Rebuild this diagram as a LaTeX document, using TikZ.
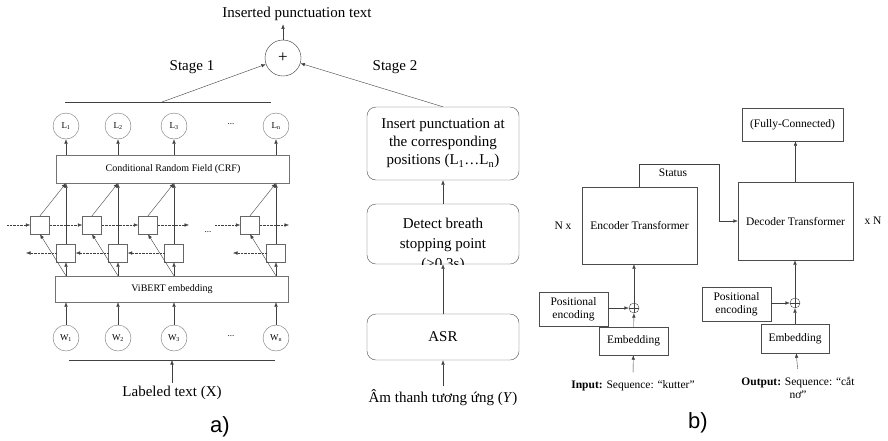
\documentclass[tikz,border=0pt]{standalone}
\usepackage{fontspec}
\setmainfont{Liberation Serif}
\newfontfamily\labfont{Liberation Sans}
\usetikzlibrary{arrows.meta}

\begin{document}
\begin{tikzpicture}[x=1pt,y=-1pt,
    arr/.style={-{Latex[length=4.5pt,width=3.5pt]},black!75},
    dotarr/.style={arr,densely dotted},
    tok/.style={draw=black!55,circle,inner sep=0pt,minimum size=26pt,font=\fontsize{9}{10}\selectfont},
    cell/.style={draw=black!60,minimum width=19pt,minimum height=18pt,inner sep=0pt},
    layer/.style={draw=black!55,minimum width=233pt,inner sep=0pt,font=\fontsize{10}{12}\selectfont},
    stagebox/.style={draw=black!70,rounded corners=9pt,minimum width=152pt,inner sep=0pt,align=center,font=\fontsize{15}{18}\selectfont},
    tbox/.style={draw=black!70,inner sep=0pt,align=center,font=\fontsize{11.5}{13}\selectfont},
    big/.style={font=\fontsize{15}{18}\selectfont},
    small/.style={font=\fontsize{11.5}{13}\selectfont},
    caption/.style={font=\labfont\fontsize{22}{22}\selectfont}]
    \useasboundingbox (0,0) rectangle (888,440);

    % a) stage 1
    \node[draw=black!80,circle,minimum size=36pt,inner sep=0pt,font=\fontsize{17}{17}\selectfont] (plus) at (283,58) {+};
    \node[big] (result) at (297,14) {Inserted punctuation text};
    \draw[arr] (plus.north) -- (plus.north |- result.south);
    \node[big] (stagea) at (192,67) {Stage 1};
    \node[big] (stageb) at (395,67) {Stage 2};

    \node[layer,minimum height=28pt] (crf) at (173,169) {Conditional Random Field (CRF)};
    \node[layer,minimum height=26pt] (vibert) at (172,289) {ViBERT embedding};

    \coordinate (topl) at (65,102);
    \coordinate (topr) at (271,102);
    \coordinate (topm) at (162,102);
    \draw[black!75] (topl) -- (topr);
    \draw[arr] (topm) -- (plus);

    \foreach \c/\x/\n in {1/66/1,2/118/2,3/174/3,4/276/n} {
        \node[tok] (L\c) at (\x,126) {L\textsubscript{\n}};
        \node[tok] (W\c) at (\x,338) {W\textsubscript{\n}};
        \node[cell] (f\c) at (\x-26,225) {};
        \node[cell] (b\c) at (\x,253) {};
        \draw[arr] (crf.north -| L\c) -- (L\c);
        \draw[arr] (W\c) -- (vibert.south -| W\c);
        \draw[arr] (vibert.north -| b\c) -- (b\c);
        \draw[arr] (b\c) -- (crf.south -| b\c);
        \draw[arr] (vibert.north -| b\c) -- (f\c.south);
        \draw[arr] (f\c.north) -- (crf.south -| b\c);
    }
    \node[font=\fontsize{9}{9}\selectfont] (ldots) at (231,124) {...};
    \node[font=\fontsize{9}{9}\selectfont] (cdots) at (208,232) {...};
    \node[font=\fontsize{9}{9}\selectfont] (wdots) at (231,336) {...};

    \coordinate (fin) at (7,225);
    \coordinate (fout) at (189,225);
    \coordinate (fin4) at (215,225);
    \coordinate (fend) at (289,225);
    \coordinate (bout) at (26,253);
    \coordinate (bout4) at (233,253);
    \draw[dotarr] (fin) -- (f1);
    \draw[dotarr] (f1) -- (f2);
    \draw[dotarr] (f2) -- (f3);
    \draw[dotarr] (f3) -- (fout);
    \draw[dotarr] (fin4) -- (f4);
    \draw[dotarr] (f4) -- (fend);
    \draw[dotarr] (b2) -- (b1);
    \draw[dotarr] (b1) -- (bout);
    \draw[dotarr] (b3) -- (b2);
    \draw[dotarr] (b4) -- (bout4);

    \coordinate (inl) at (69,360);
    \coordinate (inr) at (275,360);
    \draw[black!75] (inl) -- (inr);
    \node[big] (xtext) at (172,393) {Labeled text (X)};
    \draw[arr] (xtext.north) -- (xtext.north |- inl);
    \node[caption] (capa) at (220,427) {a)};

    % a) stage 2
    \node[stagebox,minimum height=73pt] (insert) at (443,143.5) {Insert punctuation at\\the corresponding\\positions (L\textsubscript{1}\ldots L\textsubscript{n})};
    \node[stagebox,minimum height=60pt] (detect) at (443,234) {};
    \begin{scope}
        \clip (detect.south west) rectangle (detect.north east);
        \node[align=center,inner sep=0pt,font=\fontsize{15}{20}\selectfont] (detecttext) at (443,245) {Detect breath\\stopping point\\(>0.3s)};
    \end{scope}
    \node[stagebox,minimum height=46pt] (asr) at (443,337) {ASR};
    \node[big] (audio) at (443,398) {Âm thanh tương ứng (\textit{Y})};
    \draw[arr] (audio.north) -- (asr);
    \draw[arr] (asr) -- (detect);
    \draw[arr] (detect) -- (insert);
    \draw[arr] (insert.north) -- (plus);

    % b)
    \node[tbox,minimum width=101pt,minimum height=33pt] (fc) at (792.5,124.5) {(Fully-Connected)};
    \node[tbox,minimum width=115pt,minimum height=78pt] (dec) at (795.5,221) {Decoder Transformer};
    \node[tbox,minimum width=115pt,minimum height=77pt] (enc) at (639.5,225.5) {Encoder Transformer};
    \node[tbox,minimum width=69pt,minimum height=34pt] (pos1) at (573.5,309) {Positional\\encoding};
    \node[tbox,minimum width=69pt,minimum height=28pt] (emb1) at (633.5,341) {Embedding};
    \node[tbox,minimum width=69pt,minimum height=34pt] (pos2) at (736.5,304) {Positional\\encoding};
    \node[tbox,minimum width=68pt,minimum height=29pt] (emb2) at (795,338.5) {Embedding};
    \node[draw=black!75,circle,minimum size=10pt,inner sep=0pt] (add1) at (634,308) {};
    \node[draw=black!75,circle,minimum size=10pt,inner sep=0pt] (add2) at (795,303) {};
    \draw[black!75] (add1.north) -- (add1.south) (add1.west) -- (add1.east);
    \draw[black!75] (add2.north) -- (add2.south) (add2.west) -- (add2.east);

    \node[small] (input) at (633,386) {\textbf{Input:} Sequence: “kutter”};
    \node[small,align=center] (output) at (798,388) {\textbf{Output:} Sequence: “cắt\\nơ”};
    \draw[arr,shorten <=5pt] (input.north) -- (emb1);
    \draw[arr,shorten <=5pt] (output.north) -- (emb2);
    \draw[arr] (emb1) -- (add1);
    \draw[arr] (emb2) -- (add2);
    \draw[arr] (pos1.east |- add1) -- (add1);
    \draw[arr] (pos2.east |- add2) -- (add2);
    \draw[arr] (add1) -- (add1 |- enc.south);
    \draw[arr] (add2) -- (add2 |- dec.south);
    \draw[arr] (dec.north) -- (dec.north |- fc.south);

    \coordinate (st1) at (719,164);
    \draw[arr] (enc.north) |- (st1) |- (dec.west);
    \node[small] (status) at (673,173) {Status};
    \node[small] (nx) at (563,226) {N x};
    \node[small] (xn) at (873,221) {x N};
    \node[caption] (capb) at (698,423) {b)};
\end{tikzpicture}
\end{document}
